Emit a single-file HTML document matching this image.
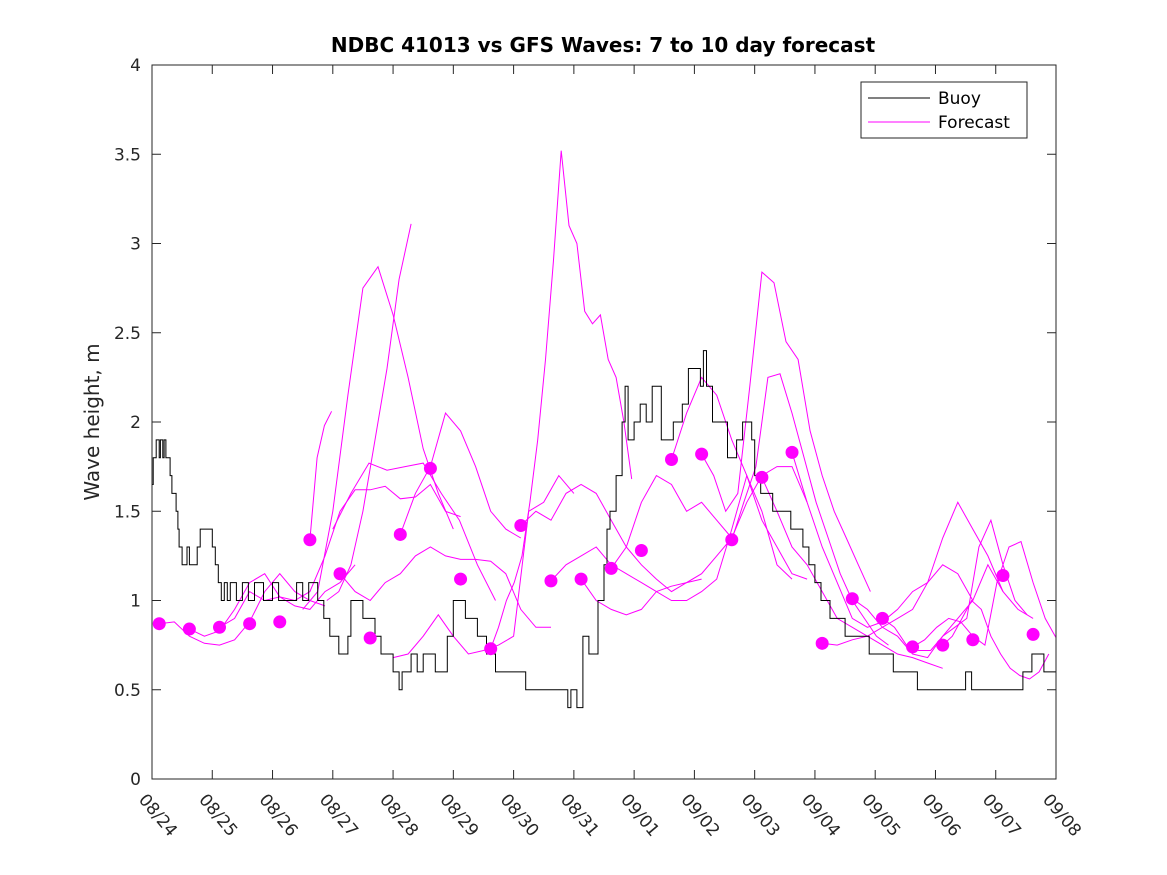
<!DOCTYPE html>
<html><head><meta charset="utf-8"><style>
body{margin:0;background:#fff;}
svg{display:block;font-family:"DejaVu Sans","Liberation Sans",sans-serif;}
</style></head><body>
<svg id="chart" width="1167" height="875" viewBox="0 0 1167 875" xmlns="http://www.w3.org/2000/svg">
<defs><clipPath id="pc"><rect x="152" y="65" width="904" height="714"/></clipPath></defs>
<rect width="1167" height="875" fill="#fff"/>
<g clip-path="url(#pc)">
<g id="fc"></g>
<g id="buoy"></g>
<g id="dots"></g>
</g>
<g id="axes"></g>
<text x="603" y="52" text-anchor="middle" font-size="20" font-weight="bold" fill="#000">NDBC 41013 vs GFS Waves: 7 to 10 day forecast</text>
<text transform="translate(99,422) rotate(-90)" text-anchor="middle" font-size="20" fill="#262626">Wave height, m</text>
<g>
<rect x="861" y="82" width="166" height="56" fill="#fff" stroke="#262626" stroke-width="1"/>
<line x1="868" y1="98" x2="930" y2="98" stroke="#000" stroke-width="1"/>
<text x="938" y="104" font-size="17" fill="#000">Buoy</text>
<line x1="868" y1="122" x2="930" y2="122" stroke="#f0f" stroke-width="1"/>
<text x="938" y="128" font-size="17" fill="#000">Forecast</text>
</g>
</svg>
<script>
const xTickLabels=["08/24","08/25","08/26","08/27","08/28","08/29","08/30","08/31","09/01","09/02","09/03","09/04","09/05","09/06","09/07","09/08"];
const yTicks=[0,0.5,1,1.5,2,2.5,3,3.5,4];
const yTickLabels=["0","0.5","1","1.5","2","2.5","3","3.5","4"];
const buoyDays=[0,0.02,0.07,0.12,0.14,0.18,0.2,0.23,0.3,0.33,0.4,0.43,0.45,0.5,0.58,0.62,0.75,0.8,1.0,1.05,1.1,1.15,1.2,1.25,1.3,1.4,1.5,1.6,1.7,1.85,2.0,2.1,2.2,2.4,2.5,2.6,2.75,2.85,2.95,3.1,3.25,3.3,3.5,3.7,3.8,4.0,4.1,4.15,4.3,4.4,4.5,4.7,4.9,5.0,5.2,5.4,5.55,5.7,6.2,6.9,6.95,7.05,7.15,7.25,7.4,7.5,7.55,7.6,7.7,7.8,7.85,7.9,8.0,8.1,8.2,8.3,8.45,8.65,8.8,8.9,9.1,9.15,9.2,9.3,9.55,9.7,9.8,9.95,10.0,10.1,10.3,10.5,10.6,10.8,10.9,11.0,11.1,11.25,11.5,11.9,12.1,12.3,12.5,12.7,13.5,13.6,14.4,14.45,14.6,14.8,15.0];
const buoyVals=[1.65,1.8,1.9,1.8,1.9,1.8,1.9,1.8,1.7,1.6,1.5,1.4,1.3,1.2,1.3,1.2,1.3,1.4,1.3,1.2,1.1,1.0,1.1,1.0,1.1,1.0,1.1,1.0,1.1,1.0,1.1,1.0,1.0,1.1,1.0,1.1,1.0,0.9,0.8,0.7,0.8,1.0,0.9,0.8,0.7,0.6,0.5,0.6,0.7,0.6,0.7,0.6,0.8,1.0,0.9,0.8,0.7,0.6,0.5,0.4,0.5,0.4,0.8,0.7,1.0,1.2,1.4,1.5,1.7,2.0,2.2,1.9,2.0,2.1,2.0,2.2,1.9,2.0,2.1,2.3,2.2,2.4,2.2,2.0,1.8,1.9,2.0,1.9,1.7,1.6,1.5,1.5,1.4,1.3,1.2,1.1,1.0,0.9,0.8,0.7,0.7,0.6,0.6,0.5,0.6,0.5,0.5,0.6,0.7,0.6,0.6];
const dotDays=[0.12,0.62,1.12,1.62,2.12,2.62,3.12,3.62,4.12,4.62,5.12,5.62,6.12,6.62,7.12,7.62,8.12,8.62,9.12,9.62,10.12,10.62,11.12,11.62,12.12,12.62,13.12,13.62,14.12,14.62];
const dotVals=[0.87,0.84,0.85,0.87,0.88,1.34,1.15,0.79,1.37,1.74,1.12,0.73,1.42,1.11,1.12,1.18,1.28,1.79,1.82,1.34,1.69,1.83,0.76,1.01,0.90,0.74,0.75,0.78,1.14,0.81];
const fcStart=[0.12,0.62,1.12,2.62,2.5,2.9,4.12,3.0,3.12,4.0,5.62,6.12,6.62,7.12,7.62,8.62,9.12,9.62,10.12,10.62,11.12,11.62,12.12,12.62,13.12];
const fcStep=[0.25,0.25,0.25,0.12,0.25,0.2,0.25,0.3,0.25,0.25,0.13,0.25,0.25,0.25,0.25,0.25,0.2,0.2,0.25,0.25,0.25,0.25,0.2,0.2,0.16];
const fcVals=[
[0.87,0.88,0.8,0.76,0.75,0.78,0.88,1.05,1.15,1.05,1.0,0.97],
[0.84,0.8,0.83,0.95,1.1,1.15,1.02,0.97,0.95,1.05,1.1,1.2],
[0.85,0.9,1.05,1.0,1.02,1.0,1.05,1.25,1.5,1.62,1.62,1.64,1.57,1.58,1.65,1.5,1.47],
[1.34,1.8,1.98,2.06],
[0.95,1.05,1.5,2.15,2.75,2.87,2.6,2.25,1.85,1.6,1.4],
[1.0,1.05,1.2,1.5,1.9,2.3,2.8,3.11],
[1.37,1.6,1.75,2.05,1.95,1.75,1.5,1.4,1.35],
[1.4,1.6,1.77,1.73,1.75,1.77,1.6,1.45,1.2,1.0],
[1.15,1.05,1.0,1.1,1.15,1.25,1.3,1.25,1.23,1.23,1.22,1.15,0.95,0.85,0.85],
[0.68,0.7,0.8,0.92,0.8,0.7,0.72,0.75,0.8,1.5,1.55,1.7,1.6],
[0.73,0.85,1.0,1.1,1.25,1.55,1.9,2.35,2.9,3.52,3.1,3.0,2.62,2.55,2.6,2.35,2.25,2.0,1.68],
[1.42,1.5,1.45,1.6,1.65,1.6,1.45,1.3,1.2,1.12,1.05,1.1,1.12],
[1.11,1.2,1.25,1.3,1.2,1.15,1.1,1.05,1.08,1.1,1.15,1.25,1.35],
[1.12,1.0,0.95,0.92,0.95,1.05,1.0,1.0,1.05,1.12,1.4,1.7,1.5,1.2,1.12],
[1.18,1.3,1.55,1.7,1.65,1.5,1.55,1.45,1.35,1.55,1.7,1.75,1.75,1.55],
[1.79,2.05,2.25,2.15,1.9,1.7,1.45,1.3,1.15,1.12],
[1.82,1.7,1.5,1.6,2.2,2.84,2.78,2.45,2.35,1.95,1.7,1.5,1.35,1.2,1.05],
[1.34,1.55,1.75,2.25,2.27,2.05,1.8,1.55,1.35,1.15,1.0,0.9,0.8,0.75],
[1.69,1.5,1.3,1.2,1.05,0.9,0.85,0.8,0.75,0.7,0.68,0.65,0.62],
[1.83,1.55,1.3,1.1,0.9,0.85,0.88,0.95,1.05,1.1,1.2,1.15,1.0],
[0.76,0.75,0.78,0.8,0.85,0.9,0.95,1.1,1.35,1.55,1.4,1.25,1.05],
[1.01,0.95,0.85,0.8,0.7,0.68,0.8,0.9,1.0,1.2,1.05,0.95,0.9],
[0.9,0.85,0.75,0.72,0.72,0.8,0.85,0.9,1.3,1.45,1.2,1.0,0.92],
[0.74,0.78,0.85,0.9,0.88,0.8,0.75,1.1,1.3,1.33,1.1,0.9,0.78],
[0.75,0.8,0.9,1.0,0.95,0.8,0.7,0.62,0.58,0.56,0.6,0.7]
];
const X=d=>152+d*(904/15);
const Y=v=>779-v*(714/4);
const NS="http://www.w3.org/2000/svg";
function mk(t,a,p){const e=document.createElementNS(NS,t);for(const k in a)e.setAttribute(k,a[k]);p.appendChild(e);return e;}
const fc=document.getElementById('fc');
fcVals.forEach((vals,i)=>{
  const pts=vals.map((v,j)=>X(fcStart[i]+j*fcStep[i]).toFixed(1)+','+Y(v).toFixed(1)).join(' ');
  const el=mk('polyline',{points:pts,fill:'none',stroke:'#f0f','stroke-width':1},fc);
  
  
});
const bg=document.getElementById('buoy');
let d='';
buoyDays.forEach((dd,i)=>{
  const x=X(dd).toFixed(1),y=Y(buoyVals[i]).toFixed(1);
  if(i===0)d+='M'+x+','+y;else d+='H'+x+'V'+y;
});
d+='H'+X(15).toFixed(1);
const bp=mk('path',{d:d,fill:'none',stroke:'#000','stroke-width':1},bg);


const dg=document.getElementById('dots');
dotDays.forEach((dd,i)=>{
  const c=mk('circle',{cx:X(dd),cy:Y(dotVals[i]),r:6.5,fill:'#f0f'},dg);
  
  
});
const ax=document.getElementById('axes');
const box=mk('rect',{x:152,y:65,width:904,height:714,fill:'none',stroke:'#262626','stroke-width':1},ax);


yTicks.forEach((v,i)=>{
  const y=Y(v);
  mk('line',{x1:152,y1:y,x2:161,y2:y,stroke:'#262626'},ax);
  mk('line',{x1:1047,y1:y,x2:1056,y2:y,stroke:'#262626'},ax);
  const t=mk('text',{x:141,y:y+6,'text-anchor':'end','font-size':17,fill:'#262626'},ax);
  t.textContent=yTickLabels[i];
  
  
});
xTickLabels.forEach((lab,i)=>{
  const x=X(i);
  mk('line',{x1:x,y1:779,x2:x,y2:770,stroke:'#262626'},ax);
  mk('line',{x1:x,y1:65,x2:x,y2:74,stroke:'#262626'},ax);
  const t=mk('text',{x:0,y:0,transform:'translate('+(x-14)+',800) rotate(50)','font-size':17,fill:'#262626'},ax);
  t.textContent=lab;
  
  
});
</script>
</body></html>
